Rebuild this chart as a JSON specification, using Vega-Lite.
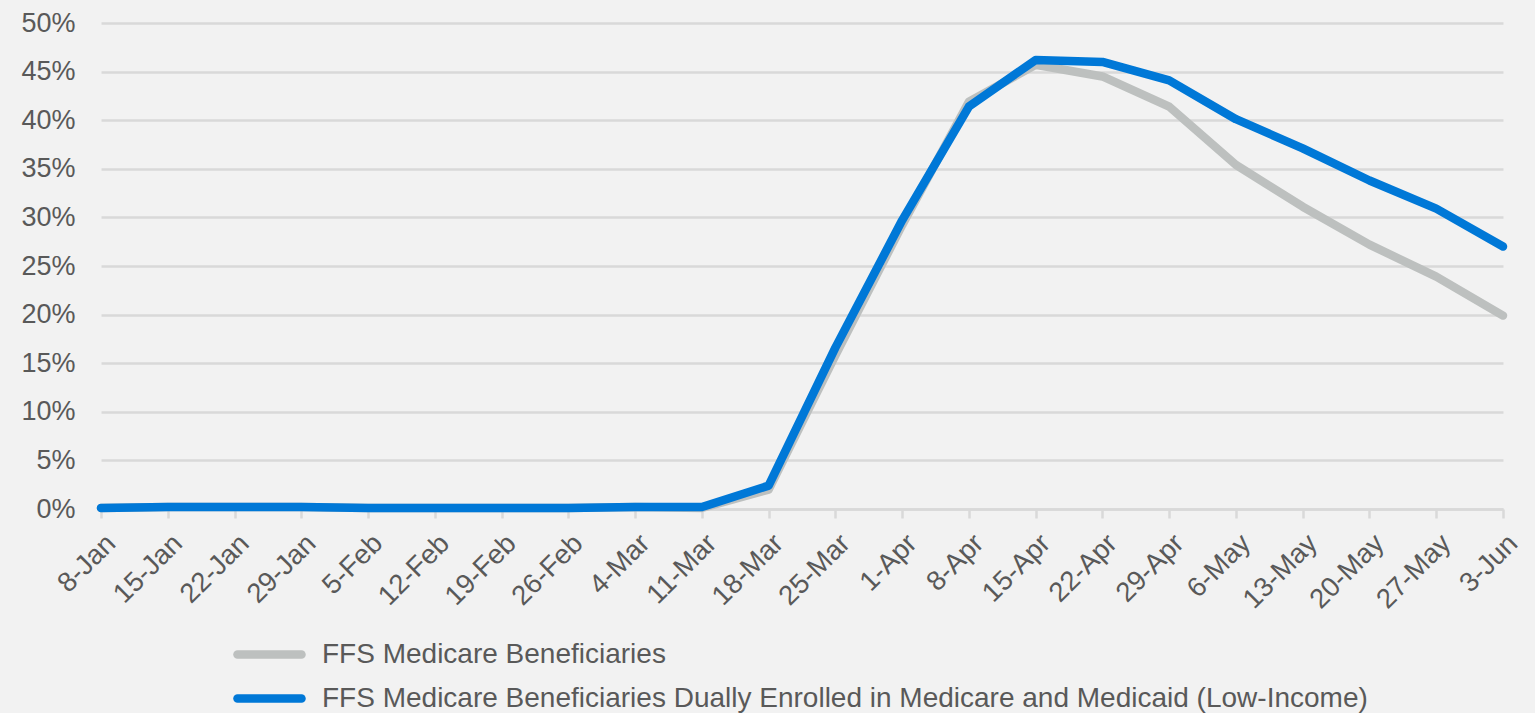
{
  "$schema": "https://vega.github.io/schema/vega-lite/v6.json",
  "width": 1411,
  "height": 486,
  "autosize": {"type": "none"},
  "padding": {"left": 101, "top": 23, "right": 23, "bottom": 204},
  "background": "#F2F2F2",
  "config": {
    "view": {"stroke": null},
    "font": "Liberation Sans",
    "axis": {"labelFont": "Liberation Sans", "labelColor": "#595959", "title": null},
    "legend": {"padding": 0}
  },
  "data": {
    "values": [
      {"week": "8-Jan", "series": "FFS Medicare Beneficiaries", "value": 0.001},
      {"week": "15-Jan", "series": "FFS Medicare Beneficiaries", "value": 0.002},
      {"week": "22-Jan", "series": "FFS Medicare Beneficiaries", "value": 0.002},
      {"week": "29-Jan", "series": "FFS Medicare Beneficiaries", "value": 0.002},
      {"week": "5-Feb", "series": "FFS Medicare Beneficiaries", "value": 0.001},
      {"week": "12-Feb", "series": "FFS Medicare Beneficiaries", "value": 0.001},
      {"week": "19-Feb", "series": "FFS Medicare Beneficiaries", "value": 0.001},
      {"week": "26-Feb", "series": "FFS Medicare Beneficiaries", "value": 0.001},
      {"week": "4-Mar", "series": "FFS Medicare Beneficiaries", "value": 0.002},
      {"week": "11-Mar", "series": "FFS Medicare Beneficiaries", "value": 0.001},
      {"week": "18-Mar", "series": "FFS Medicare Beneficiaries", "value": 0.020},
      {"week": "25-Mar", "series": "FFS Medicare Beneficiaries", "value": 0.158},
      {"week": "1-Apr", "series": "FFS Medicare Beneficiaries", "value": 0.292},
      {"week": "8-Apr", "series": "FFS Medicare Beneficiaries", "value": 0.419},
      {"week": "15-Apr", "series": "FFS Medicare Beneficiaries", "value": 0.457},
      {"week": "22-Apr", "series": "FFS Medicare Beneficiaries", "value": 0.445},
      {"week": "29-Apr", "series": "FFS Medicare Beneficiaries", "value": 0.414},
      {"week": "6-May", "series": "FFS Medicare Beneficiaries", "value": 0.354},
      {"week": "13-May", "series": "FFS Medicare Beneficiaries", "value": 0.311},
      {"week": "20-May", "series": "FFS Medicare Beneficiaries", "value": 0.272},
      {"week": "27-May", "series": "FFS Medicare Beneficiaries", "value": 0.239},
      {"week": "3-Jun", "series": "FFS Medicare Beneficiaries", "value": 0.199},
      {"week": "8-Jan", "series": "FFS Medicare Beneficiaries Dually Enrolled in Medicare and Medicaid (Low-Income)", "value": 0.001},
      {"week": "15-Jan", "series": "FFS Medicare Beneficiaries Dually Enrolled in Medicare and Medicaid (Low-Income)", "value": 0.002},
      {"week": "22-Jan", "series": "FFS Medicare Beneficiaries Dually Enrolled in Medicare and Medicaid (Low-Income)", "value": 0.002},
      {"week": "29-Jan", "series": "FFS Medicare Beneficiaries Dually Enrolled in Medicare and Medicaid (Low-Income)", "value": 0.002},
      {"week": "5-Feb", "series": "FFS Medicare Beneficiaries Dually Enrolled in Medicare and Medicaid (Low-Income)", "value": 0.001},
      {"week": "12-Feb", "series": "FFS Medicare Beneficiaries Dually Enrolled in Medicare and Medicaid (Low-Income)", "value": 0.001},
      {"week": "19-Feb", "series": "FFS Medicare Beneficiaries Dually Enrolled in Medicare and Medicaid (Low-Income)", "value": 0.001},
      {"week": "26-Feb", "series": "FFS Medicare Beneficiaries Dually Enrolled in Medicare and Medicaid (Low-Income)", "value": 0.001},
      {"week": "4-Mar", "series": "FFS Medicare Beneficiaries Dually Enrolled in Medicare and Medicaid (Low-Income)", "value": 0.002},
      {"week": "11-Mar", "series": "FFS Medicare Beneficiaries Dually Enrolled in Medicare and Medicaid (Low-Income)", "value": 0.002},
      {"week": "18-Mar", "series": "FFS Medicare Beneficiaries Dually Enrolled in Medicare and Medicaid (Low-Income)", "value": 0.024},
      {"week": "25-Mar", "series": "FFS Medicare Beneficiaries Dually Enrolled in Medicare and Medicaid (Low-Income)", "value": 0.166},
      {"week": "1-Apr", "series": "FFS Medicare Beneficiaries Dually Enrolled in Medicare and Medicaid (Low-Income)", "value": 0.297},
      {"week": "8-Apr", "series": "FFS Medicare Beneficiaries Dually Enrolled in Medicare and Medicaid (Low-Income)", "value": 0.414},
      {"week": "15-Apr", "series": "FFS Medicare Beneficiaries Dually Enrolled in Medicare and Medicaid (Low-Income)", "value": 0.462},
      {"week": "22-Apr", "series": "FFS Medicare Beneficiaries Dually Enrolled in Medicare and Medicaid (Low-Income)", "value": 0.460},
      {"week": "29-Apr", "series": "FFS Medicare Beneficiaries Dually Enrolled in Medicare and Medicaid (Low-Income)", "value": 0.441},
      {"week": "6-May", "series": "FFS Medicare Beneficiaries Dually Enrolled in Medicare and Medicaid (Low-Income)", "value": 0.401},
      {"week": "13-May", "series": "FFS Medicare Beneficiaries Dually Enrolled in Medicare and Medicaid (Low-Income)", "value": 0.371},
      {"week": "20-May", "series": "FFS Medicare Beneficiaries Dually Enrolled in Medicare and Medicaid (Low-Income)", "value": 0.338},
      {"week": "27-May", "series": "FFS Medicare Beneficiaries Dually Enrolled in Medicare and Medicaid (Low-Income)", "value": 0.309},
      {"week": "3-Jun", "series": "FFS Medicare Beneficiaries Dually Enrolled in Medicare and Medicaid (Low-Income)", "value": 0.270}
    ]
  },
  "mark": {"type": "line", "strokeWidth": 8.5, "strokeCap": "round", "strokeJoin": "round"},
  "encoding": {
    "x": {
      "field": "week",
      "type": "ordinal",
      "sort": null,
      "scale": {"type": "point", "range": [0, 1402], "padding": 0},
      "axis": {
        "labelAngle": -45,
        "labelFontSize": 27.5,
        "labelPadding": 11,
        "domainColor": "#D9D9D9",
        "domainWidth": 2.5,
        "tickColor": "#D9D9D9",
        "tickWidth": 2.5,
        "tickSize": 9,
        "grid": false
      }
    },
    "y": {
      "field": "value",
      "type": "quantitative",
      "scale": {"domain": [0, 0.5], "nice": false},
      "axis": {
        "format": ".0%",
        "values": [0, 0.05, 0.1, 0.15, 0.2, 0.25, 0.3, 0.35, 0.4, 0.45, 0.5],
        "labelFontSize": 27,
        "labelPadding": 26,
        "domain": false,
        "ticks": false,
        "grid": true,
        "gridColor": "#D9D9D9",
        "gridWidth": 2.5
      }
    },
    "color": {
      "field": "series",
      "type": "nominal",
      "sort": null,
      "scale": {
        "domain": [
          "FFS Medicare Beneficiaries",
          "FFS Medicare Beneficiaries Dually Enrolled in Medicare and Medicaid (Low-Income)"
        ],
        "range": ["#BDC0BF", "#0078D7"]
      },
      "legend": {
        "title": null,
        "orient": "none",
        "direction": "vertical",
        "legendX": 176,
        "legendY": 615,
        "symbolType": "M-4.667,0H0.667",
        "symbolSize": 576,
        "symbolStrokeWidth": 8.5,
        "labelFontSize": 28,
        "labelColor": "#595959",
        "labelOffset": 12,
        "labelLimit": 2000,
        "rowPadding": 9,
        "encode": {
          "symbols": {"update": {"strokeCap": {"value": "round"}}}
        }
      }
    }
  }
}
